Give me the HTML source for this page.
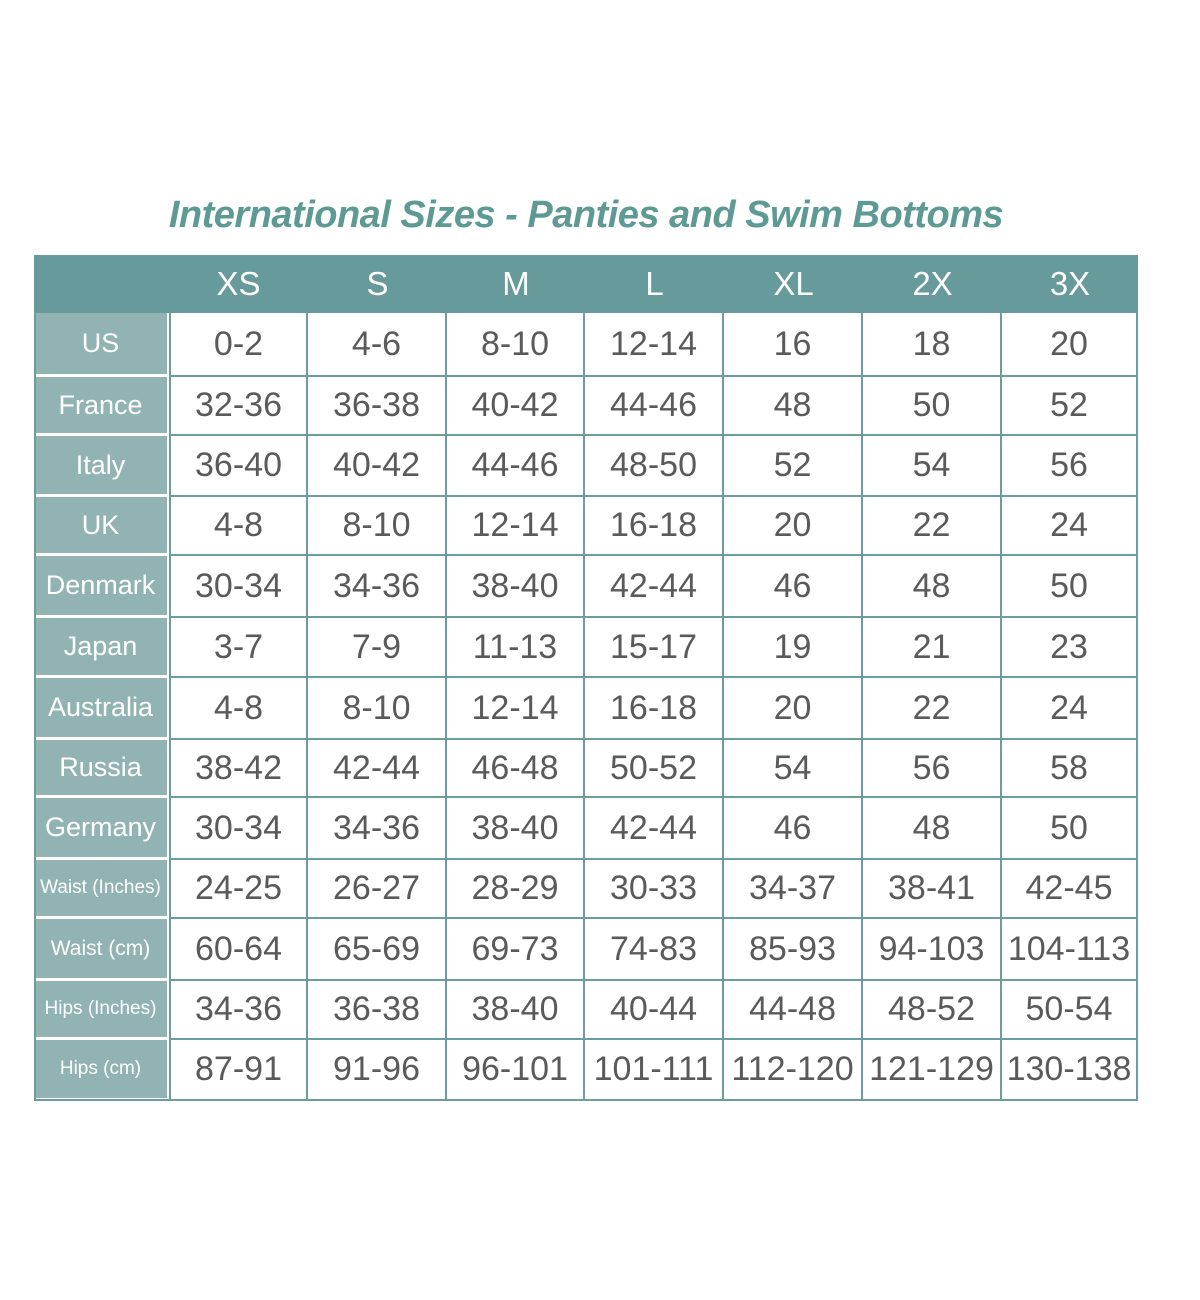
<!DOCTYPE html>
<html><head><style>
body{margin:0;width:1200px;height:1300px;background:#fff;position:relative;font-family:"Liberation Sans","DejaVu Sans",sans-serif;overflow:hidden}
.t{position:absolute;left:0;width:1172px;top:194px;text-align:center;font-size:38px;color:#5e9a94;font-style:italic;font-weight:bold;letter-spacing:-0.5px}
.hd{position:absolute;left:34px;top:255px;width:1104px;height:58px;background:#679a9a}
.c{position:absolute;display:flex;align-items:center;justify-content:center;box-sizing:border-box}
.h{color:#fff;font-size:33px}
.l{background:#92b3b3;color:#fff;font-size:27px;border-bottom:3px solid #fff;border-right:2px solid #fff}
.v{color:#5a5a5a;font-size:34px;border-right:2px solid #6a9e9e;border-bottom:2px solid #6a9e9e}
.s{font-size:19px}
</style></head><body>
<div class="t">International Sizes - Panties and Swim Bottoms</div>
<div class="hd"></div>
<div id="g"></div>
<script>
var cols=[169,308,447,585,724,863,1002,1138];
var rows=[313,377,436,497,556,618,678,740,798,860,919,981,1040,1101];
var hdr=["XS","S","M","L","XL","2X","3X"];
var lab=["US","France","Italy","UK","Denmark","Japan","Australia","Russia","Germany","Waist (Inches)","Waist (cm)","Hips (Inches)","Hips (cm)"];
var d=[["0-2","4-6","8-10","12-14","16","18","20"],["32-36","36-38","40-42","44-46","48","50","52"],["36-40","40-42","44-46","48-50","52","54","56"],["4-8","8-10","12-14","16-18","20","22","24"],["30-34","34-36","38-40","42-44","46","48","50"],["3-7","7-9","11-13","15-17","19","21","23"],["4-8","8-10","12-14","16-18","20","22","24"],["38-42","42-44","46-48","50-52","54","56","58"],["30-34","34-36","38-40","42-44","46","48","50"],["24-25","26-27","28-29","30-33","34-37","38-41","42-45"],["60-64","65-69","69-73","74-83","85-93","94-103","104-113"],["34-36","36-38","38-40","40-44","44-48","48-52","50-54"],["87-91","91-96","96-101","101-111","112-120","121-129","130-138"]];
var h="";
for(var i=0;i<7;i++)h+='<div class="c h" style="left:'+cols[i]+'px;top:255px;width:'+(cols[i+1]-cols[i])+'px;height:58px">'+hdr[i]+'</div>';
for(var r=0;r<13;r++){
 var y=rows[r],hh=rows[r+1]-y;
 h+='<div class="c l'+(r>=9&&r!=10?' s':'')+'" style="left:34px;top:'+y+'px;width:135px;height:'+hh+'px;'+(r==10?'font-size:21px':'')+'">'+lab[r]+'</div>';
 for(var i=0;i<7;i++)h+='<div class="c v" style="left:'+cols[i]+'px;top:'+y+'px;width:'+(cols[i+1]-cols[i])+'px;height:'+hh+'px;'+(i==0?'border-left:2px solid #6a9e9e;':'')+'">'+d[r][i]+'</div>';
}
h+='<div style="position:absolute;left:34px;top:1099px;width:1104px;height:2px;background:#6a9e9e"></div>';
h+='<div style="position:absolute;left:34px;top:313px;width:2px;height:788px;background:#6a9e9e"></div>';
document.getElementById("g").innerHTML=h;
</script>
</body></html>
